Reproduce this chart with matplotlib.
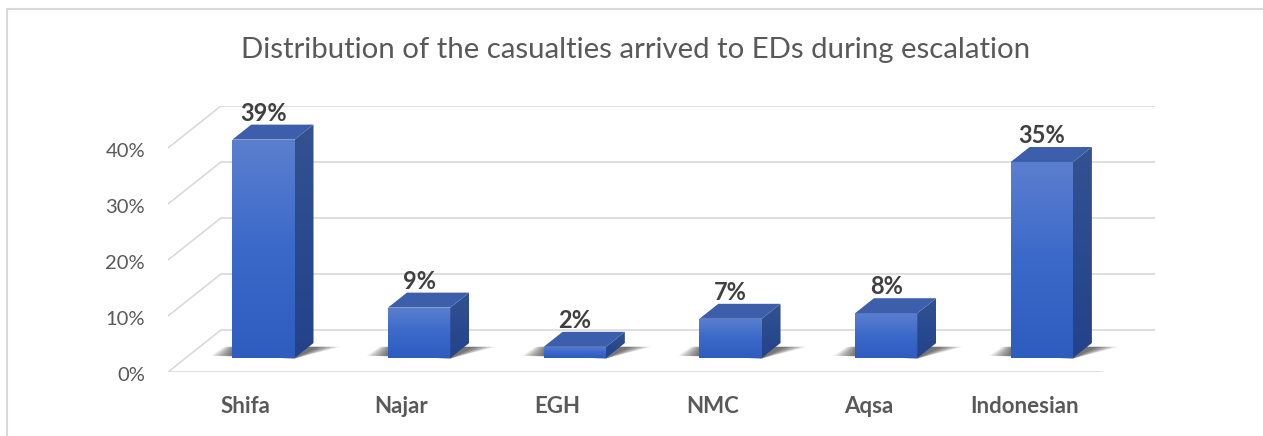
import numpy as np
import matplotlib.pyplot as plt
from matplotlib.patches import Polygon, Rectangle
from matplotlib.colors import LinearSegmentedColormap

plt.rcParams['font.family'] = ['Lato', 'DejaVu Sans']

# data
hospitals = ['Shifa', 'Najar', 'EGH', 'NMC', 'Aqsa', 'Indonesian']
shares = [39, 9, 2, 7, 8, 35]
ticks = [0, 10, 20, 30, 40]
title = 'Distribution of the casualties arrived to EDs during escalation'

# oblique "3d" look: full floor depth offset in data units
DX, DY = 0.34, 7.5
d0, d1 = 1 / 3, 0.69     # bar front / back depth
W = 0.4
grid_c = '#d9d9d9'

fig = plt.figure(figsize=(12.63, 4.36), dpi=100)
ax = fig.add_axes([168 / 1263, 64 / 436, 987 / 1263, 266 / 436])
ax.set_xlim(-0.5, 5.5 + DX)
ax.set_ylim(0, 47.5)
ax.axis('off')

# walls / floor
for t in ticks:
    ax.plot([-0.5 + DX, 5.5 + DX], [t + DY, t + DY], color=grid_c, lw=1.2, zorder=1)
    ax.plot([-0.5, -0.5 + DX], [t, t + DY], color=grid_c, lw=1.2, zorder=1)
    ax.text(-0.5 - 0.148, t - 0.6, f'{t}%', ha='right', va='center', fontsize=14.5,
            color='#595959')
ax.plot([-0.5, 5.5], [0, 0], color=grid_c, lw=1.2, zorder=1)

front_cmap = LinearSegmentedColormap.from_list('f', ['#5b7fcf', '#3b69c9', '#2f5cbf'])
side_cmap = LinearSegmentedColormap.from_list('s', ['#34528f', '#2a4a8f', '#23428a'])
grad = np.linspace(0, 1, 100).reshape(-1, 1)
ddx, ddy = (d1 - d0) * DX, (d1 - d0) * DY

for i, v in enumerate(shares):
    x0 = i - W / 2 + d0 * DX
    y0 = d0 * DY

    # soft shadow on the floor
    n = 14
    for k in range(n):
        e = 0.011 * (n - k)
        sh = Polygon([(x0 - 0.9 * e, y0 + 0.4), (x0 + W, y0 - 0.1),
                      (x0 + W + ddx + 0.02 + e, y0 + ddy * 0.75),
                      (x0 + ddx * 0.2 - 0.5 * e, y0 + ddy * 0.75)],
                     closed=True, fc='black', ec='none', alpha=0.05, zorder=2)
        ax.add_patch(sh)

    # front face with gradient
    im = ax.imshow(grad, cmap=front_cmap, extent=(x0, x0 + W, y0, y0 + v),
                   aspect='auto', zorder=3, origin='upper')
    im.set_clip_path(Rectangle((x0, y0), W, v, transform=ax.transData))

    side = Polygon([(x0 + W, y0), (x0 + W + ddx, y0 + ddy),
                    (x0 + W + ddx, y0 + v + ddy), (x0 + W, y0 + v)],
                   closed=True, fc='none', ec='none', zorder=3)
    ax.add_patch(side)
    ims = ax.imshow(grad, cmap=side_cmap, extent=(x0 + W, x0 + W + ddx, y0, y0 + v + ddy),
                    aspect='auto', zorder=3, origin='upper')
    ims.set_clip_path(side)
    top = Polygon([(x0, y0 + v), (x0 + W, y0 + v),
                   (x0 + W + ddx, y0 + v + ddy), (x0 + ddx, y0 + v + ddy)],
                  closed=True, fc='#3d5eab', ec='none', zorder=3)
    ax.add_patch(top)

    ax.text(x0 + W / 2, v + y0 + ddy, f'{v}%', ha='center', va='bottom',
            fontsize=17, fontweight='bold', color='#404040', zorder=4)
    ax.text(i, -7.3, hospitals[i], ha='center', va='baseline', fontsize=16,
            fontweight='bold', color='#595959')

ax.set_xlim(-0.5, 5.5 + DX)
ax.set_ylim(0, 47.5)

fig.text(636 / 1263, 1 - 58 / 436, title, ha='center', va='baseline', fontsize=21.2,
         color='#595959')

fig.add_artist(Rectangle((7 / 1263, -0.1), 1.2, 1.1 - 9 / 436, transform=fig.transFigure,
                         fill=False, ec='#d9d9d9', lw=1.5))

fig.savefig('out.png', dpi=100)
